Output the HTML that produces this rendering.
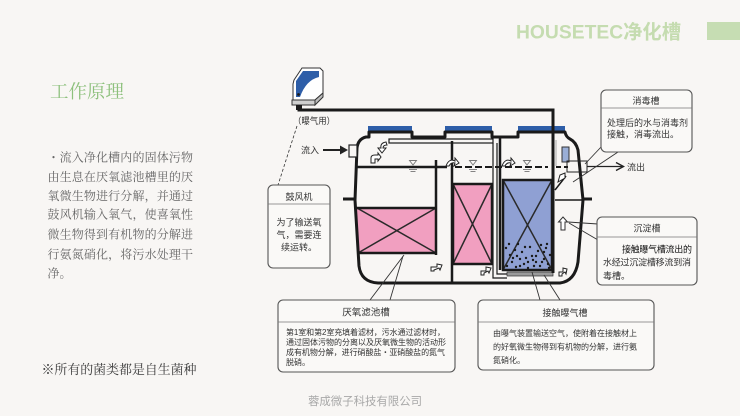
<!DOCTYPE html>
<html><head><meta charset="utf-8"><style>
html,body{margin:0;padding:0;background:#f8f6f4;}
svg{display:block;}
.s{font-family:"Liberation Sans","Noto Sans CJK SC",sans-serif;}
.r{font-family:"Liberation Serif","Noto Serif CJK SC",serif;}
</style></head><body>
<svg width="740" height="416" viewBox="0 0 740 416" xmlns="http://www.w3.org/2000/svg">
<rect x="0" y="0" width="740" height="416" fill="#f8f6f4"/>

<!-- header -->
<text x="516" y="38.5" class="s" font-size="19.5" font-weight="bold" fill="#c5dcb0" textLength="165" lengthAdjust="spacingAndGlyphs">HOUSETEC净化槽</text>
<rect x="707" y="22" width="33" height="18" fill="#c6ddb3"/>

<text x="50" y="98" class="r" font-size="18.5" fill="#8dc07c" textLength="74" lengthAdjust="spacing">工作原理</text>

<!-- paragraph -->
<g class="r" font-size="12" fill="#666666">
<text x="47.5" y="161.5" textLength="145.5" lengthAdjust="spacing">・流入净化槽内的固体污物</text>
<text x="47.5" y="181" textLength="145.5" lengthAdjust="spacing">由生息在厌氧滤池槽里的厌</text>
<text x="47.5" y="200" textLength="145.5" lengthAdjust="spacing">氧微生物进行分解，并通过</text>
<text x="47.5" y="218.5" textLength="145.5" lengthAdjust="spacing">鼓风机输入氧气，使喜氧性</text>
<text x="47.5" y="238.5" textLength="145.5" lengthAdjust="spacing">微生物得到有机物的分解进</text>
<text x="47.5" y="258.5" textLength="145.5" lengthAdjust="spacing">行氨氮硝化，将污水处理干</text>
<text x="47.5" y="277.5">净。</text>
</g>
<text x="41.5" y="374" class="r" font-size="13" fill="#3c3c3c" textLength="155" lengthAdjust="spacing">※所有的菌类都是自生菌种</text>

<text x="308" y="405" class="s" font-size="11.4" fill="#a8a8a8" textLength="114" lengthAdjust="spacing">蓉成微子科技有限公司</text>

<!-- blower icon -->
<g stroke="#333" stroke-width="1">
<path d="M294,80 L302,68 L320,68 L323,71 L323,93 L315,100 L293,100 L293,84 Z" fill="#ffffff"/>
<path d="M296,81 L303,71 L319,71 L319,77 Q306,80 300,97 L296,97 Z" fill="#2e5ea8" stroke="none"/>
<circle cx="298.5" cy="94.5" r="1.4" fill="#1a1a1a" stroke="none"/>
<path d="M292,100 L315,100 L315,105 L292,105 Z" fill="#cfcfcf"/>
<path d="M315,100 L323,93 L323,97 L315,105 Z" fill="#bdbdbd"/>
</g>
<rect x="296" y="105" width="6" height="5" fill="#1a1a1a"/>
<polyline points="299,105 299,110 553,110 553,273" fill="none" stroke="#1a1a1a" stroke-width="3"/>
<text x="293" y="124" class="s" font-size="9" fill="#333" textLength="42" lengthAdjust="spacingAndGlyphs">（曝气用）</text>
<line x1="297" y1="126" x2="278" y2="185" stroke="#333" stroke-width="0.8" stroke-dasharray="3,2"/>

<!-- lids -->
<rect x="368" y="126" width="44" height="6" fill="#2e5ea8"/>
<rect x="445" y="126" width="47" height="6" fill="#2e5ea8"/>
<rect x="518" y="126" width="47" height="6" fill="#2e5ea8"/>

<!-- chamber fills -->
<polygon points="356,208 436,208 436,253 358,253" fill="#f19fc0"/>
<rect x="453" y="184" width="39" height="80" fill="#f19fc0"/>
<rect x="503" y="180" width="49" height="90" fill="#8fa0d3"/>

<!-- X lines -->
<g stroke="#2a2a2a" stroke-width="1.5">
<line x1="357" y1="208" x2="436" y2="253"/><line x1="436" y1="208" x2="358" y2="253"/>
<line x1="453" y1="184" x2="492" y2="264"/><line x1="492" y1="184" x2="453" y2="264"/>
<line x1="503" y1="180" x2="552" y2="270"/><line x1="552" y1="180" x2="503" y2="270"/>
</g>
<g fill="none" stroke="#1a1a1a" stroke-width="2.5">
<line x1="356" y1="208" x2="436" y2="208"/><line x1="358" y1="253" x2="436" y2="253"/>
<rect x="453" y="184" width="39" height="80"/>
<rect x="503" y="180" width="49" height="90"/>
</g>

<!-- dots -->
<g fill="#1a1a1a">
<circle cx="507" cy="266" r="1.2"/><circle cx="512" cy="262" r="1.2"/><circle cx="516" cy="267" r="1.2"/><circle cx="520" cy="259" r="1.2"/><circle cx="524" cy="264" r="1.2"/><circle cx="528" cy="268" r="1.2"/><circle cx="532" cy="256" r="1.2"/><circle cx="536" cy="262" r="1.2"/><circle cx="540" cy="266" r="1.2"/><circle cx="544" cy="259" r="1.2"/><circle cx="548" cy="264" r="1.2"/><circle cx="510" cy="255" r="1.2"/><circle cx="515" cy="250" r="1.2"/><circle cx="522" cy="252" r="1.2"/><circle cx="530" cy="247" r="1.2"/><circle cx="538" cy="251" r="1.2"/><circle cx="546" cy="248" r="1.2"/><circle cx="550" cy="255" r="1.2"/><circle cx="506" cy="248" r="1.2"/><circle cx="518" cy="244" r="1.2"/><circle cx="526" cy="258" r="1.2"/><circle cx="534" cy="266" r="1.2"/><circle cx="542" cy="262" r="1.2"/><circle cx="549" cy="268" r="1.2"/><circle cx="513" cy="258" r="1.2"/><circle cx="520" cy="266" r="1.2"/><circle cx="528" cy="262" r="1.2"/><circle cx="536" cy="256" r="1.2"/><circle cx="544" cy="252" r="1.2"/><circle cx="509" cy="244" r="1.2"/><circle cx="541" cy="245" r="1.2"/><circle cx="525" cy="247" r="1.2"/><circle cx="517" cy="256" r="1.2"/><circle cx="533" cy="260" r="1.2"/><circle cx="547" cy="244" r="1.2"/>
</g>

<!-- grate -->
<rect x="507" y="272" width="46" height="4" fill="#9a9a9a" stroke="#333" stroke-width="0.7"/>

<!-- internal walls -->
<g stroke="#1a1a1a" fill="none">
<line x1="452" y1="141" x2="452" y2="282" stroke-width="2.5"/>
<line x1="436" y1="160" x2="436" y2="255" stroke-width="2.5"/>
<line x1="500" y1="137" x2="500" y2="270" stroke-width="2.5"/>
<rect x="389" y="139" width="104" height="4" stroke-width="1.2"/>
<polyline points="493,143 493,278 507,278" stroke-width="1.2"/>
<polyline points="497,143 497,274 507,274" stroke-width="1.2"/>
<line x1="357" y1="167" x2="447" y2="167" stroke-width="2.5"/>
<line x1="455" y1="167" x2="548" y2="167" stroke-width="2" stroke-dasharray="7,3"/>
<line x1="556" y1="167" x2="568" y2="167" stroke-width="2" stroke-dasharray="5,3"/>
<line x1="555" y1="200" x2="582" y2="200" stroke-width="1.5"/>
<line x1="555" y1="190" x2="566" y2="176" stroke-width="1.5"/>
</g>
<line x1="556" y1="140" x2="556" y2="166" stroke="#aaa" stroke-width="1"/>

<!-- water level markers -->
<g fill="none" stroke="#777" stroke-width="0.9">
<path d="M409.5,160.5 L416.5,160.5 L413,165 Z"/><path d="M469.5,160.5 L476.5,160.5 L473,165 Z"/><path d="M523.5,160.5 L530.5,160.5 L527,165 Z"/>
<line x1="409" y1="169.5" x2="417" y2="169.5"/><line x1="410.5" y1="171.5" x2="415.5" y2="171.5"/>
<line x1="469" y1="169.5" x2="477" y2="169.5"/><line x1="470.5" y1="171.5" x2="475.5" y2="171.5"/>
<line x1="523" y1="169.5" x2="531" y2="169.5"/><line x1="524.5" y1="171.5" x2="529.5" y2="171.5"/>
</g>

<!-- flow arrows -->
<g fill="#fff" stroke="#222" stroke-width="1">
<path d="M386,142 Q380,143 381,148 L378,148 L382,153 L386,148 L383,148 Q383,145 387,145 Z"/>
<path d="M371,163 L371,158 Q371,155 375,155 L378,155 L378,153 L381,157 L378,161 L378,159 L375,159 L375,163 Z"/>
<path d="M446,166 Q449,158 455,161 L455,158 L459,163 L454,166 L455,163 Q451,162 449,166 Z"/>
<path d="M502,166 Q505,158 511,161 L511,158 L515,163 L510,166 L511,163 Q507,162 505,166 Z"/>
<path d="M431,271 L431,267 L437,267 L437,264 L442,265 L440,270 L439,268 L434,270 L434,271 Z"/>
<path d="M481,275 L481,271 L486,271 L486,267 L491,268 L489,273 L488,271 L484,273 L484,275 Z"/>
<path d="M559,276 L559,272 L563,272 L563,268 L567,269 L566,274 L565,272 L562,274 L562,276 Z"/>
<path d="M558,182 L560,175 L565,173 L565,178 Z"/>
</g>

<!-- disinfectant tube -->
<rect x="562" y="147" width="7" height="15" fill="#9aaed6" stroke="#333" stroke-width="1"/>

<!-- up arrow -->
<polygon points="563,217 567.5,222 565,222 565,230 561,230 561,222 558.5,222" fill="#fff" stroke="#333" stroke-width="1"/>

<!-- tank outline -->
<path d="M369,132 L412,132 L412,137 L445,137 L445,132 L492,132 L492,137 L518,137 L518,132 L565,132 Q566,137 570,139 Q576,142 578,150 L583,200 L578,262 Q575,281 560,283 L378,283 Q361,282 359,266 L355,200 L357,148 Q358,139 366,137 L369,137 Z" fill="none" stroke="#1a1a1a" stroke-width="3" stroke-linejoin="round"/>
<line x1="343" y1="199" x2="356" y2="199" stroke="#1a1a1a" stroke-width="3"/>
<line x1="582" y1="199" x2="592" y2="199" stroke="#1a1a1a" stroke-width="3"/>
<line x1="553" y1="110" x2="553" y2="273" stroke="#1a1a1a" stroke-width="3"/>

<!-- inflow -->
<rect x="349" y="145" width="8" height="12" fill="#f8f6f4" stroke="#222" stroke-width="1.2"/>
<line x1="323" y1="150" x2="342" y2="150" stroke="#222" stroke-width="2"/>
<polygon points="348,150 340,145.5 340,154.5" fill="#222"/>
<text x="301" y="153.5" class="s" font-size="9" fill="#333">流入</text>

<!-- outflow -->
<rect x="567" y="161" width="20" height="11" fill="none" stroke="#222" stroke-width="1"/>
<line x1="587" y1="166.5" x2="623" y2="166.5" stroke="#222" stroke-width="1.2"/>
<polyline points="616,162.5 623.5,166.5 616,170.5" fill="none" stroke="#222" stroke-width="1.4"/>
<text x="627" y="170.5" class="s" font-size="9" fill="#333">流出</text>

<!-- leaders -->
<g stroke="#333" stroke-width="0.9">
<line x1="602" y1="146" x2="585" y2="164"/>
<line x1="618" y1="152" x2="573" y2="182"/>
<line x1="598" y1="224" x2="568" y2="222"/>
<line x1="598" y1="240" x2="569" y2="223"/>
<line x1="370" y1="300" x2="404" y2="255"/>
<line x1="390" y1="300" x2="403" y2="256"/>
<line x1="540" y1="300" x2="532" y2="272"/>
<line x1="560" y1="300" x2="544" y2="275"/>
</g>

<!-- callout boxes -->
<g fill="#faf9f7" stroke="#555" stroke-width="1.1">
<rect x="268" y="185" width="62" height="83" rx="5"/>
<rect x="601" y="90" width="91" height="62" rx="5"/>
<rect x="597" y="217" width="100" height="68" rx="5"/>
<rect x="278" y="300" width="177" height="72" rx="5"/>
<rect x="478" y="300" width="176" height="70" rx="5"/>
</g>
<g stroke="#777" stroke-width="0.8">
<line x1="268" y1="204" x2="330" y2="204"/>
<line x1="601" y1="108" x2="692" y2="108"/>
<line x1="597" y1="237" x2="697" y2="237"/>
<line x1="278" y1="322" x2="455" y2="322"/>
<line x1="478" y1="322" x2="654" y2="322"/>
</g>

<g class="s" fill="#333">
<text x="299" y="200" font-size="9" text-anchor="middle">鼓风机</text>
<text x="299" y="225.5" font-size="9" text-anchor="middle">为了输送氧</text>
<text x="299" y="238" font-size="9" text-anchor="middle">气，需要连</text>
<text x="299" y="250.5" font-size="9" text-anchor="middle">续运转。</text>

<text x="646" y="104" font-size="9" text-anchor="middle">消毒槽</text>
<text x="607" y="126" font-size="9" textLength="81" lengthAdjust="spacing">处理后的水与消毒剂</text>
<text x="607" y="137.5" font-size="9" textLength="72" lengthAdjust="spacing">接触，消毒流出。</text>

<text x="647" y="231.5" font-size="9" text-anchor="middle">沉淀槽</text>
<text x="622" y="252.5" font-size="9" textLength="70" lengthAdjust="spacing" fill="#111">接触曝气槽流出的</text>
<text x="603" y="265.5" font-size="9" textLength="88" lengthAdjust="spacing">水经过沉淀槽移流到消</text>
<text x="603" y="279" font-size="9">毒槽。</text>

<text x="366" y="315.5" font-size="9.5" text-anchor="middle">厌氧滤池槽</text>
<text x="286" y="335" font-size="8" textLength="159" lengthAdjust="spacing">第1室和第2室充填着滤材，污水通过滤材时，</text>
<text x="286" y="345" font-size="8" textLength="160" lengthAdjust="spacing">通过固体污物的分离以及厌氧微生物的活动形</text>
<text x="286" y="355" font-size="8" textLength="159" lengthAdjust="spacing">成有机物分解，进行硝酸盐・亚硝酸盐的氮气</text>
<text x="286" y="365" font-size="8">脱硝。</text>

<text x="565" y="316" font-size="9" text-anchor="middle">接触曝气槽</text>
<text x="493" y="336" font-size="8" textLength="144" lengthAdjust="spacing">由曝气装置输送空气，使附着在接触材上</text>
<text x="493" y="349.5" font-size="8" textLength="144" lengthAdjust="spacing">的好氧微生物得到有机物的分解，进行氨</text>
<text x="493" y="363" font-size="8">氮硝化。</text>
</g>
</svg>
</body></html>
